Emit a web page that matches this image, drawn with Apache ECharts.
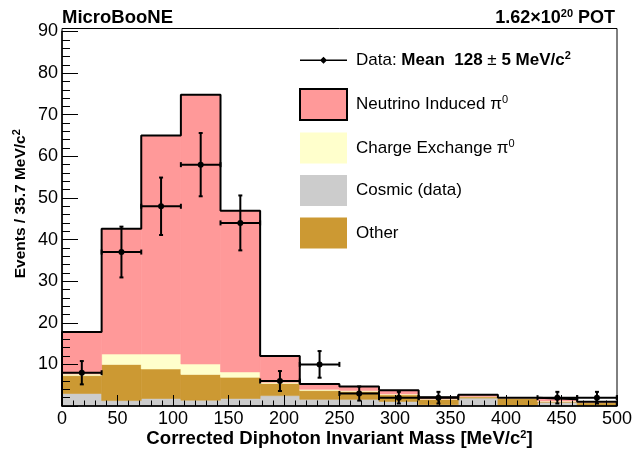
<!DOCTYPE html>
<html><head><meta charset="utf-8">
<script src="https://cdn.jsdelivr.net/npm/echarts@6/dist/echarts.min.js"></script>
<style>html,body{margin:0;padding:0;background:#fff}#c{width:640px;height:449px}</style>
</head><body><div id="c"></div>
<script>
// ---- data ----
const binLow = [0, 35.7, 71.4, 107.1, 142.8, 178.5, 214.2, 249.9, 285.6, 321.3, 357.0, 392.7, 428.4, 464.1];
const binWidth = 35.7;
const cosmic          = [3.0, 1.3, 1.8, 1.4, 1.8, 2.5, 1.6, 1.6, 1.1, 0.3, 1.9, 0.2, 0.9, 0.1];
const other           = [4.3, 8.7, 7.1, 6.2, 5.1, 2.9, 2.1, 1.9, 1.6, 1.3, 0.3, 1.6, 0.2, 0.7];
const chargeExchange  = [0.4, 2.5, 3.6, 2.5, 1.3, 0.3, 0.3, 0.2, 0.2, 0.1, 0.1, 0.1, 0.1, 0.05];
const neutrinoInduced = [10.1, 30.1, 52.5, 64.7, 38.7, 6.3, 1.3, 1.0, 0.9, 0.4, 0.4, 0.1, 0.4, 0.15];
const dataCounts = [8, 37, 48, 58, 44, 6, 10, 3, 2, 2, null, null, 2, 2];
const dataErrors = [2.8, 6.1, 6.9, 7.6, 6.6, 2.4, 3.2, 1.7, 1.4, 1.4, null, null, 1.4, 1.4];
const xTickStep = 50;
const yTickStep = 10;

const FONT = "'Liberation Sans', Arial, Helvetica, sans-serif";
const colors = {nu: '#ff9999', cex: '#ffffcc', cosmic: '#cccccc', other: '#cc9933'};

function renderBin(params, api) {
  const a = api.coord([api.value(0), api.value(3)]);
  const b = api.coord([api.value(1), api.value(2)]);
  const col = api.visual('color');
  return {type: 'rect', shape: {x: a[0], y: a[1], width: b[0] - a[0], height: b[1] - a[1]},
          style: {fill: col, stroke: col, lineWidth: 0.6}};
}

const stackOrder = [
  {name: 'Cosmic (data)', values: cosmic, color: colors.cosmic},
  {name: 'Other', values: other, color: colors.other},
  {name: 'Charge Exchange', values: chargeExchange, color: colors.cex},
  {name: 'Neutrino Induced', values: neutrinoInduced, color: colors.nu}
];
const base = binLow.map(() => 0);
const stackSeries = stackOrder.map((s, k) => {
  const data = s.values.map((v, i) => {
    const lo = base[i]; base[i] = lo + v;
    return [binLow[i], binLow[i] + binWidth, lo, base[i]];
  });
  return {type: 'custom', name: s.name, itemStyle: {color: s.color}, z: 2 + k * 0.01, silent: true,
          renderItem: renderBin, encode: {x: [0, 1], y: [2, 3]}, data: data};
});
const totals = base.slice();

const outline = [[binLow[0], 0]];
binLow.forEach((x, i) => outline.push([x, totals[i]]));
outline.push([binLow[binLow.length - 1] + binWidth, totals[totals.length - 1]]);
outline.push([binLow[binLow.length - 1] + binWidth, 0]);

const points = [];
dataCounts.forEach((c, i) => {
  if (c !== null) points.push([binLow[i] + binWidth / 2, c, dataErrors[i], binWidth / 2]);
});

function renderPoint(params, api) {
  const x = api.value(0), y = api.value(1), e = api.value(2), hw = api.value(3);
  const c = api.coord([x, y]);
  const t = api.coord([x, y + e]);
  const b = api.coord([x, y - e]);
  const l = api.coord([x - hw, y]);
  const r = api.coord([x + hw, y]);
  const st = {stroke: '#000', lineWidth: 2};
  return {type: 'group', children: [
    {type: 'line', shape: {x1: l[0], y1: c[1], x2: r[0], y2: c[1]}, style: st},
    {type: 'line', shape: {x1: l[0], y1: c[1] - 2.5, x2: l[0], y2: c[1] + 2.5}, style: st},
    {type: 'line', shape: {x1: r[0], y1: c[1] - 2.5, x2: r[0], y2: c[1] + 2.5}, style: st},
    {type: 'line', shape: {x1: c[0], y1: t[1], x2: c[0], y2: b[1]}, style: st},
    {type: 'line', shape: {x1: c[0] - 2, y1: t[1], x2: c[0] + 2, y2: t[1]}, style: st},
    {type: 'line', shape: {x1: c[0] - 2, y1: b[1], x2: c[0] + 2, y2: b[1]}, style: st},
    {type: 'circle', shape: {cx: c[0], cy: c[1], r: 3}, style: {fill: '#000'}}
  ]};
}

const supStyle = {fontFamily: FONT, fontSize: 11, lineHeight: 11, verticalAlign: 'top', color: '#000'};
const supBold = Object.assign({}, supStyle, {fontWeight: 'bold'});
const legendLabels = {
  'Data': 'Data: {b|Mean  128} ± {b|5 MeV/c}{sb|2}',
  'Neutrino Induced': 'Neutrino Induced π{s|0}',
  'Charge Exchange': 'Charge Exchange π{s|0}',
  'Cosmic (data)': 'Cosmic (data)',
  'Other': 'Other'
};

const chart = echarts.init(document.getElementById('c'), null, {renderer: 'canvas'});
chart.setOption({
  animation: false,
  backgroundColor: '#fff',
  title: [
    {text: 'MicroBooNE', left: 62, top: 8, padding: 0,
     textStyle: {fontFamily: FONT, fontSize: 18.5, fontWeight: 'bold', color: '#000', lineHeight: 20}},
    {text: '1.62×10{s|20} POT', right: 25, top: 8, padding: 0,
     textStyle: {fontFamily: FONT, fontSize: 18, fontWeight: 'bold', color: '#000', lineHeight: 20,
                 rich: {s: supBold}}}
  ],
  grid: {left: 62, right: 23, top: 31.5, bottom: 43, containLabel: false, outerBoundsMode: 'none'},
  legend: {
    left: 299, top: 44, orient: 'vertical', itemWidth: 47, itemHeight: 31, itemGap: 11.5, padding: 0,
    selectedMode: false,
    data: [
      {name: 'Data', icon: 'path://M0,0M47,31M0,15.5L47,15.5M21,15.5L23.5,13L26,15.5L23.5,18Z',
       itemStyle: {color: '#000', borderColor: '#000', borderWidth: 1.5}},
      {name: 'Neutrino Induced', icon: 'rect', itemStyle: {color: colors.nu, borderColor: '#000', borderWidth: 2}},
      {name: 'Charge Exchange', icon: 'rect', itemStyle: {color: colors.cex, borderWidth: 0}},
      {name: 'Cosmic (data)', icon: 'rect', itemStyle: {color: colors.cosmic, borderWidth: 0}},
      {name: 'Other', icon: 'rect', itemStyle: {color: colors.other, borderWidth: 0}}
    ],
    formatter: n => legendLabels[n],
    textStyle: {fontFamily: FONT, fontSize: 17, color: '#000', lineHeight: 20, padding: [0, 0, 0, 4],
      rich: {
        b: {fontFamily: FONT, fontSize: 17, fontWeight: 'bold', color: '#000', lineHeight: 20},
        s: supStyle, sb: supBold
      }}
  },
  xAxis: {
    type: 'value', min: 0, max: 500, interval: xTickStep, z: 5,
    axisLine: {show: true, lineStyle: {color: '#000', width: 1.5}},
    axisTick: {show: true, inside: true, length: 11, lineStyle: {color: '#000', width: 1}},
    minorTick: {show: true, splitNumber: 5, length: 5.5, lineStyle: {color: '#000', width: 1}},
    splitLine: {show: false},
    axisLabel: {fontFamily: FONT, fontSize: 18, color: '#000', margin: 4, showMinLabel: true, showMaxLabel: true},
    name: 'Corrected Diphoton Invariant Mass [MeV/c{s|2}]', nameLocation: 'middle', nameGap: 23,
    nameMoveOverlap: false,
    nameTextStyle: {fontFamily: FONT, fontSize: 18.6, fontWeight: 'bold', color: '#000', lineHeight: 20,
                    rich: {s: supBold}}
  },
  yAxis: {
    type: 'value', min: 0, max: 90, interval: yTickStep, z: 5,
    axisLine: {show: true, lineStyle: {color: '#000', width: 1.5}},
    axisTick: {show: true, inside: true, length: 16, lineStyle: {color: '#000', width: 1}},
    minorTick: {show: true, splitNumber: 5, length: 8, lineStyle: {color: '#000', width: 1}},
    splitLine: {show: false},
    axisLabel: {fontFamily: FONT, fontSize: 18, color: '#000', margin: 4,
                formatter: v => (v === 0 ? '' : String(v))},
    name: 'Events / 35.7 MeV/c{s|2}', nameLocation: 'middle', nameGap: 31, nameRotate: 90,
    nameMoveOverlap: false,
    nameTextStyle: {fontFamily: FONT, fontSize: 15.5, fontWeight: 'bold', color: '#000', lineHeight: 20,
                    padding: [0, 0, 0, 30], rich: {s: supBold}}
  },
  graphic: [
    {type: 'rect', z: 100, silent: true, shape: {x: 62, y: 28.5, width: 555, height: 377.5},
     style: {fill: null, stroke: '#000', lineWidth: 1}}
  ],
  series: stackSeries.concat([
    {type: 'line', name: 'outline', data: outline, step: 'end', symbol: 'none', silent: true, z: 3,
     lineStyle: {color: '#000', width: 2}},
    {type: 'custom', name: 'Data', itemStyle: {color: '#000'}, z: 6, silent: true,
     renderItem: renderPoint, encode: {x: 0, y: 1}, data: points}
  ])
});
</script></body></html>
